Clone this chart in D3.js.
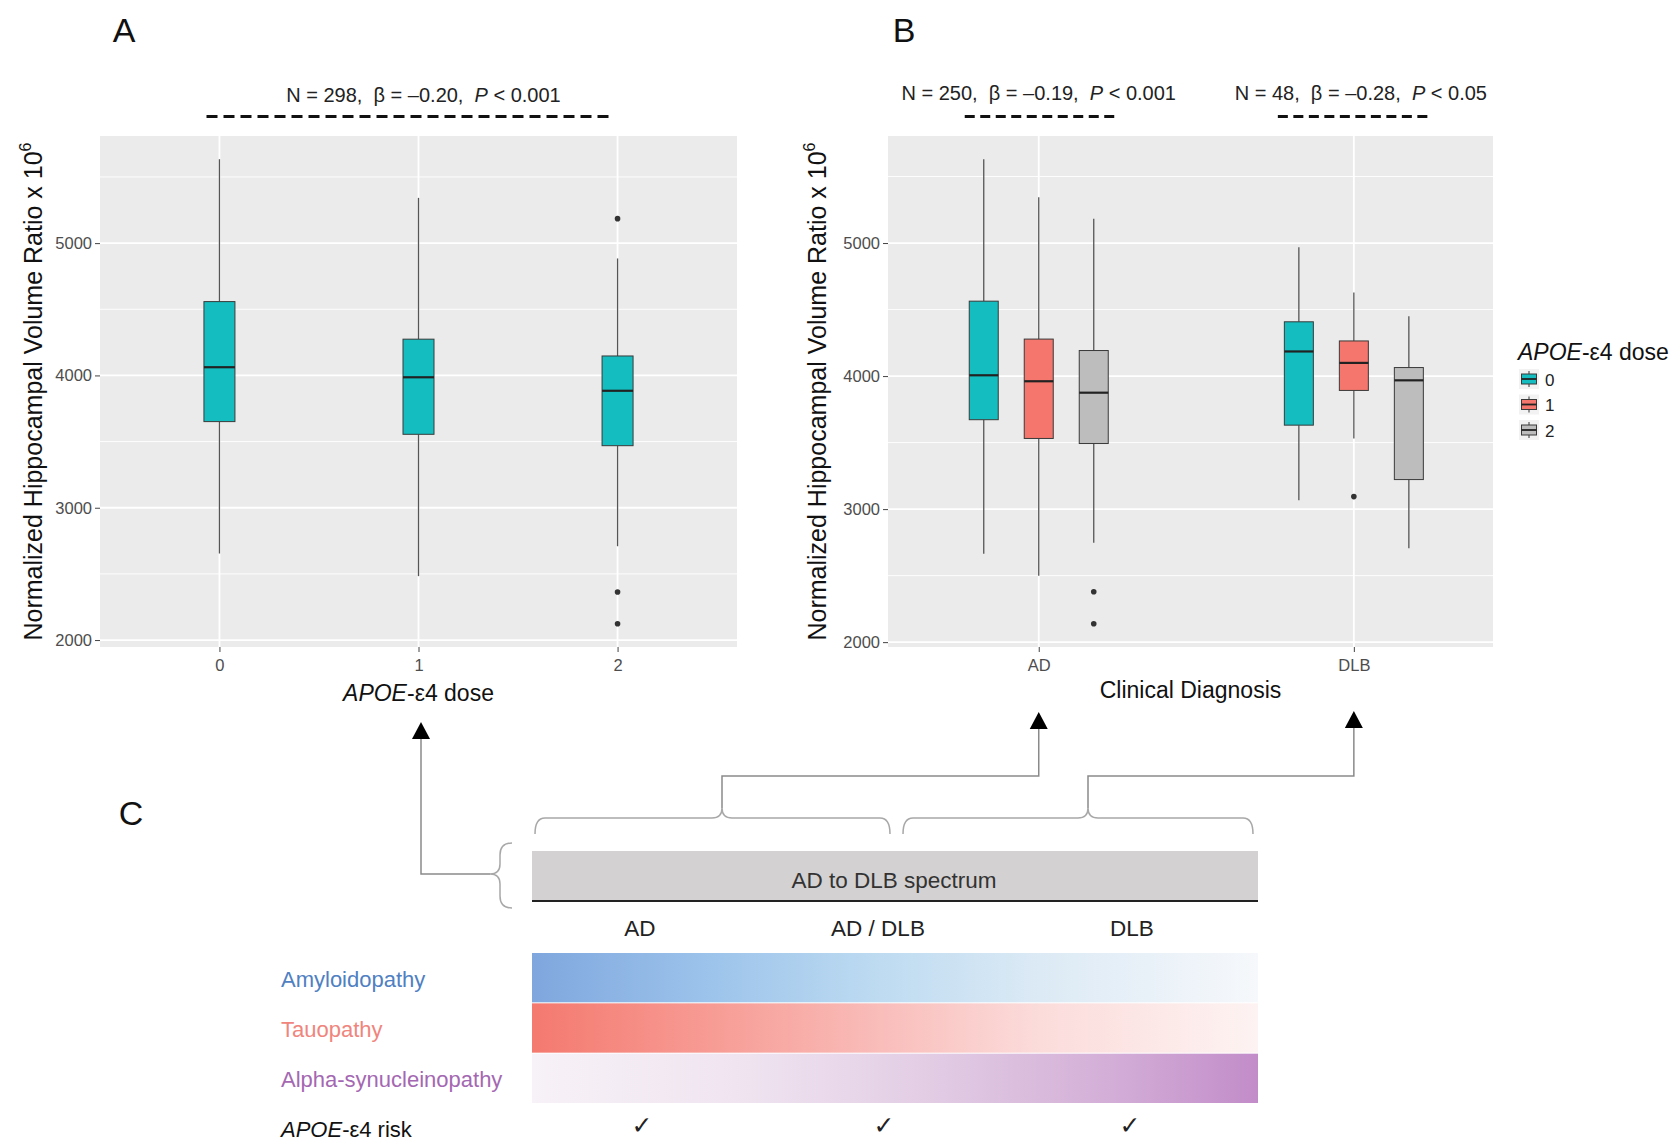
<!DOCTYPE html>
<html>
<head>
<meta charset="utf-8">
<script src="https://cdn.jsdelivr.net/npm/d3@7"></script>
<style>
body { margin: 0; background: #fff; }
svg text { font-family: "Liberation Sans", Arial, sans-serif; }
</style>
</head>
<body>
<div id="fig"></div>
<script>
// ---- data ----
var doseLevels = ["0", "1", "2"];
var diagnoses = ["AD", "DLB"];
var yTicks = [2000, 3000, 4000, 5000];
var yMinor = [2500, 3500, 4500, 5500];

// panel A: all subjects, by APOE-e4 dose
var aLower  = [2654, 2483, 2709];
var aQ1     = [3651, 3555, 3469];
var aMedian = [4062, 3986, 3884];
var aQ3     = [4558, 4274, 4147];
var aUpper  = [5634, 5342, 4884];
var aOutliers = [[], [], [5185, 2363, 2123]];

// panel B: rows = AD, DLB ; columns = dose 0, 1, 2
var bLower  = [[2664, 2499, 2747], [3067, 3531, 2706]];
var bQ1     = [[3672, 3531, 3493], [3631, 3892, 3222]];
var bMedian = [[4006, 3961, 3875], [4185, 4099, 3968]];
var bQ3     = [[4563, 4278, 4192], [4408, 4264, 4064]];
var bUpper  = [[5630, 5344, 5182], [4969, 4628, 4450]];
var bOutliers = [[[], [], [2379, 2138]], [[], [3094], []]];

// regression annotations: panel A, B-AD, B-DLB
var annN    = ["298", "250", "48"];
var annBeta = ["–0.20", "–0.19", "–0.28"];
var annP    = ["0.001", "0.001", "0.05"];

// panel C
var stages = ["AD", "AD / DLB", "DLB"];
var pathologies = ["Amyloidopathy", "Tauopathy", "Alpha-synucleinopathy"];
var apoeRisk = [true, true, true];

// ---- styles ----
var doseColors = ["#13BDC0", "#F5766C", "#BDBDBD"];
var pathColors = ["#4F80C2", "#F0857D", "#A468B2"];
var pathStops = [
  [["0%", "#7FA7DE"], ["25%", "#9DC4EB"], ["48%", "#BEDBF1"], ["70%", "#DCEAF5"], ["100%", "#F6F8FB"]],
  [["0%", "#F4796F"], ["25%", "#F79C95"], ["48%", "#F9BDBA"], ["70%", "#FBDCDB"], ["100%", "#FDF3F2"]],
  [["0%", "#F7F2F7"], ["30%", "#EFE3F0"], ["55%", "#E2CCE4"], ["80%", "#D3AED7"], ["100%", "#C28CC9"]]
];

var svg = d3.select('#fig').append('svg')
    .attr('width', 1679)
    .attr('height', 1144);

var defs = svg.append('defs');

// ---------- generic ggplot-ish panel ----------
function drawPanel(P, x, y, cats) {
  var g = svg.append('g');
  g.append('rect')
      .attr('x', P.left).attr('y', P.top)
      .attr('width', P.right - P.left).attr('height', P.bottom - P.top)
      .attr('fill', '#EBEBEB');
  g.selectAll('.minor').data(yMinor).enter().append('line')
      .attr('x1', P.left).attr('x2', P.right)
      .attr('y1', function(d) { return y(d); }).attr('y2', function(d) { return y(d); })
      .attr('stroke', '#fff').attr('stroke-width', 0.9);
  g.selectAll('.major').data(yTicks).enter().append('line')
      .attr('x1', P.left).attr('x2', P.right)
      .attr('y1', function(d) { return y(d); }).attr('y2', function(d) { return y(d); })
      .attr('stroke', '#fff').attr('stroke-width', 1.8);
  g.selectAll('.vmajor').data(cats).enter().append('line')
      .attr('x1', function(d) { return x(d); }).attr('x2', function(d) { return x(d); })
      .attr('y1', P.top).attr('y2', P.bottom)
      .attr('stroke', '#fff').attr('stroke-width', 1.8);

  var ya = svg.append('g')
      .attr('transform', 'translate(' + P.left + ',0)')
      .call(d3.axisLeft(y).tickValues(yTicks).tickFormat(d3.format('d')).tickSize(5).tickPadding(3));
  ya.select('.domain').remove();
  ya.selectAll('line').attr('stroke', '#444');
  ya.selectAll('text').attr('fill', '#4D4D4D')
      .style('font-size', '16.5px').style('font-family', '"Liberation Sans", Arial, sans-serif');

  var xa = svg.append('g')
      .attr('transform', 'translate(0,' + P.bottom + ')')
      .call(d3.axisBottom(x).tickSize(5).tickPadding(7));
  xa.select('.domain').remove();
  xa.selectAll('line').attr('stroke', '#444');
  xa.selectAll('text').attr('fill', '#4D4D4D')
      .style('font-size', '16.5px').style('font-family', '"Liberation Sans", Arial, sans-serif');
}

function drawBox(g, cx, y, lo, q1, med, q3, hi, outs, fill, w) {
  g.append('line')
      .attr('x1', cx).attr('x2', cx).attr('y1', y(hi)).attr('y2', y(q3))
      .attr('stroke', '#555').attr('stroke-width', 1.3);
  g.append('line')
      .attr('x1', cx).attr('x2', cx).attr('y1', y(q1)).attr('y2', y(lo))
      .attr('stroke', '#555').attr('stroke-width', 1.3);
  g.append('rect')
      .attr('x', cx - w / 2).attr('y', y(q3))
      .attr('width', w).attr('height', y(q1) - y(q3))
      .attr('fill', fill).attr('stroke', '#3a3a3a').attr('stroke-width', 1);
  g.append('line')
      .attr('x1', cx - w / 2).attr('x2', cx + w / 2).attr('y1', y(med)).attr('y2', y(med))
      .attr('stroke', '#222').attr('stroke-width', 2.2);
  g.selectAll(null).data(outs).enter().append('circle')
      .attr('cx', cx).attr('cy', function(d) { return y(d); })
      .attr('r', 2.8).attr('fill', '#333');
}

function yTitle(xBase, yCenter) {
  var t = svg.append('text')
      .attr('transform', 'translate(' + xBase + ',' + yCenter + ')rotate(-90)')
      .attr('text-anchor', 'middle')
      .style('font-size', '25px')
      .attr('fill', '#111');
  t.append('tspan').text('Normalized Hippocampal Volume Ratio x 10');
  t.append('tspan').attr('dy', -11).style('font-size', '16px').text('6');
}

function annotation(i, cx, tx, half, dash, baseY) {
  var t = svg.append('text')
      .attr('x', tx).attr('y', baseY)
      .attr('text-anchor', 'middle')
      .style('font-size', '20px').attr('fill', '#222')
      .attr('xml:space', 'preserve');
  t.append('tspan').text('N = ' + annN[i] + ',  β = ' + annBeta[i] + ',  ');
  t.append('tspan').style('font-style', 'italic').text('P');
  t.append('tspan').text(' < ' + annP[i]);
  svg.append('line')
      .attr('x1', cx - half).attr('x2', cx + half)
      .attr('y1', 116.5).attr('y2', 116.5)
      .attr('stroke', '#111').attr('stroke-width', 3)
      .attr('stroke-dasharray', dash);
}

// ---------- Panel A ----------
var PA = {left: 100, right: 737, top: 136, bottom: 647};
var xA = d3.scalePoint().domain(doseLevels).range([PA.left, PA.right]).padding(0.6);
var extA = d3.extent(aLower.concat(aUpper, d3.merge(aOutliers)));
var padA = (extA[1] - extA[0]) * 0.05;
var yA = d3.scaleLinear().domain([extA[0] - padA, extA[1] + padA]).range([PA.bottom, PA.top]);

drawPanel(PA, xA, yA, doseLevels);
var boxesA = svg.append('g');
doseLevels.forEach(function(d, i) {
  drawBox(boxesA, xA(d), yA, aLower[i], aQ1[i], aMedian[i], aQ3[i], aUpper[i], aOutliers[i], doseColors[0], 31);
});
yTitle(42, (PA.top + PA.bottom) / 2);

var xtA = svg.append('text')
    .attr('x', xA("1")).attr('y', 701)
    .attr('text-anchor', 'middle')
    .style('font-size', '23px').attr('fill', '#111');
xtA.append('tspan').style('font-style', 'italic').text('APOE');
xtA.append('tspan').text('-ε4 dose');

annotation(0, xA("1") - 9, xA("1") + 5, 203, '11 6', 102);

// ---------- Panel B ----------
var PB = {left: 888, right: 1493, top: 136, bottom: 647};
var xB = d3.scalePoint().domain(diagnoses).range([PB.left, PB.right]).padding(0.46).align(0.52);
var dodge = d3.scalePoint().domain(doseLevels).range([-55, 55]);
var extB = d3.extent(d3.merge(bLower).concat(d3.merge(bUpper), d3.merge(d3.merge(bOutliers))));
var padB = (extB[1] - extB[0]) * 0.05;
var yB = d3.scaleLinear().domain([extB[0] - padB, extB[1] + padB]).range([PB.bottom, PB.top]);

drawPanel(PB, xB, yB, diagnoses);
var boxesB = svg.append('g');
diagnoses.forEach(function(dg, j) {
  doseLevels.forEach(function(d, i) {
    drawBox(boxesB, xB(dg) + dodge(d), yB, bLower[j][i], bQ1[j][i], bMedian[j][i],
            bQ3[j][i], bUpper[j][i], bOutliers[j][i], doseColors[i], 29);
  });
});
yTitle(826, (PB.top + PB.bottom) / 2);

svg.append('text')
    .attr('x', (PB.left + PB.right) / 2).attr('y', 698)
    .attr('text-anchor', 'middle')
    .style('font-size', '23px').attr('fill', '#111')
    .text('Clinical Diagnosis');

annotation(1, xB("AD") + 2, xB("AD"), 76, '10 5.5', 100);
annotation(2, xB("DLB"), xB("DLB") + 7, 76, '10 5.5', 100);

// legend
var lt = svg.append('text')
    .attr('x', 1518).attr('y', 360)
    .style('font-size', '23px').attr('fill', '#111');
lt.append('tspan').style('font-style', 'italic').text('APOE');
lt.append('tspan').text('-ε4 dose');

var leg = svg.append('g').selectAll('g').data(doseLevels).enter().append('g')
    .attr('transform', function(d, i) { return 'translate(1519,' + (369 + i * 25.5) + ')'; });
leg.append('rect').attr('width', 20).attr('height', 20).attr('fill', '#F2F2F2');
leg.append('line').attr('x1', 10).attr('x2', 10).attr('y1', 2).attr('y2', 18)
    .attr('stroke', '#555').attr('stroke-width', 1.2);
leg.append('rect').attr('x', 2.5).attr('y', 5).attr('width', 15).attr('height', 10)
    .attr('fill', function(d, i) { return doseColors[i]; })
    .attr('stroke', '#3a3a3a').attr('stroke-width', 1);
leg.append('line').attr('x1', 2.5).attr('x2', 17.5).attr('y1', 10).attr('y2', 10)
    .attr('stroke', '#222').attr('stroke-width', 1.8);
leg.append('text').attr('x', 26).attr('y', 16.5)
    .style('font-size', '17px').attr('fill', '#222')
    .text(function(d) { return d; });

// ---------- panel letters ----------
svg.append('text').attr('x', 124).attr('y', 42).attr('text-anchor', 'middle')
    .style('font-size', '34px').attr('fill', '#111').text('A');
svg.append('text').attr('x', 904).attr('y', 42).attr('text-anchor', 'middle')
    .style('font-size', '34px').attr('fill', '#111').text('B');
svg.append('text').attr('x', 131).attr('y', 825).attr('text-anchor', 'middle')
    .style('font-size', '34px').attr('fill', '#111').text('C');

// ---------- Panel C ----------
var C = {left: 532, right: 1258};
var rowY = d3.scaleBand().domain(pathologies).range([953, 1103]).paddingInner(0.02);

// spectrum bar
svg.append('rect').attr('x', C.left).attr('y', 851)
    .attr('width', C.right - C.left).attr('height', 50).attr('fill', '#D3D1D1');
svg.append('line').attr('x1', C.left).attr('x2', C.right).attr('y1', 901).attr('y2', 901)
    .attr('stroke', '#222').attr('stroke-width', 2);
svg.append('text').attr('x', 894).attr('y', 888).attr('text-anchor', 'middle')
    .style('font-size', '22.5px').attr('fill', '#333').text('AD to DLB spectrum');

svg.selectAll('.stage').data(stages).enter().append('text')
    .attr('x', function(d, i) { return [640, 878, 1132][i]; })
    .attr('y', 936).attr('text-anchor', 'middle')
    .style('font-size', '22.5px').attr('fill', '#222')
    .text(function(d) { return d; });

// gradient rows
pathologies.forEach(function(p, i) {
  var gr = defs.append('linearGradient').attr('id', 'grad' + i)
      .attr('x1', '0%').attr('x2', '100%').attr('y1', '0%').attr('y2', '0%');
  pathStops[i].forEach(function(s) {
    gr.append('stop').attr('offset', s[0]).attr('stop-color', s[1]);
  });
  svg.append('rect')
      .attr('x', C.left).attr('y', rowY(p))
      .attr('width', C.right - C.left).attr('height', rowY.bandwidth())
      .attr('fill', 'url(#grad' + i + ')');
  svg.append('text')
      .attr('x', 281).attr('y', rowY(p) + rowY.bandwidth() / 2 + 9)
      .style('font-size', '22px').attr('fill', pathColors[i])
      .text(p);
});

var rk = svg.append('text').attr('x', 281).attr('y', 1137)
    .style('font-size', '22px').attr('fill', '#111');
rk.append('tspan').style('font-style', 'italic').text('APOE');
rk.append('tspan').text('-ε4 risk');

svg.selectAll('.check').data(apoeRisk).enter().append('text')
    .attr('x', function(d, i) { return [642, 884, 1130][i]; })
    .attr('y', 1134).attr('text-anchor', 'middle')
    .style('font-size', '25px').style('font-family', '"DejaVu Sans", sans-serif')
    .attr('fill', '#222')
    .text(function(d) { return d ? '✓' : ''; });

// braces and connectors
function hBrace(x1, x2, xm, yLine, yTip, yEnd) {
  var r = 10;
  return 'M' + x1 + ',' + yEnd + ' Q' + x1 + ',' + yLine + ' ' + (x1 + r) + ',' + yLine +
         ' L' + (xm - r) + ',' + yLine + ' Q' + xm + ',' + yLine + ' ' + xm + ',' + yTip +
         ' Q' + xm + ',' + yLine + ' ' + (xm + r) + ',' + yLine +
         ' L' + (x2 - r) + ',' + yLine + ' Q' + x2 + ',' + yLine + ' ' + x2 + ',' + yEnd;
}
var braceG = svg.append('g').attr('fill', 'none').attr('stroke', '#A8A8A8').attr('stroke-width', 1.5);
braceG.append('path').attr('d', hBrace(535, 890, 722, 818, 808, 834));
braceG.append('path').attr('d', hBrace(903, 1253, 1088, 818, 808, 834));
braceG.append('path').attr('d',
    'M512,843 Q500,843 500,855 L500,864 Q500,874 490,874 Q500,874 500,884 L500,896 Q500,908 512,908');

var conn = svg.append('g').attr('fill', 'none').attr('stroke', '#8A8A8A').attr('stroke-width', 1.5);
conn.append('path').attr('d', 'M490,874 L421,874 L421,738');
conn.append('path').attr('d', 'M722,808 L722,776 L' + xB("AD") + ',776 L' + xB("AD") + ',728');
conn.append('path').attr('d', 'M1088,808 L1088,776 L' + xB("DLB") + ',776 L' + xB("DLB") + ',728');

function arrow(x, tip) {
  svg.append('path')
      .attr('d', 'M' + x + ',' + tip + ' L' + (x + 9) + ',' + (tip + 17) + ' L' + (x - 9) + ',' + (tip + 17) + ' Z')
      .attr('fill', '#000');
}
arrow(421, 722);
arrow(xB("AD"), 712);
arrow(xB("DLB"), 711);
</script>
</body>
</html>
